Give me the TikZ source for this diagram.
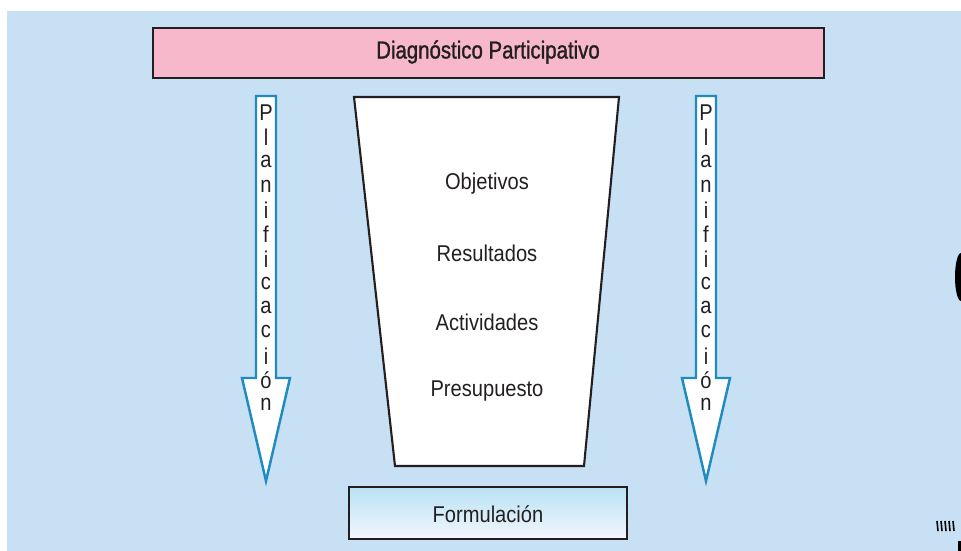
\documentclass[tikz,border=0pt]{standalone}
\usepackage{fontspec}
\setmainfont{Liberation Sans}
\newfontfamily\textofont[FakeStretch=0.88]{Liberation Sans}
\newfontfamily\titulofont[FakeStretch=0.83, FakeBold=1.2]{Liberation Sans}
\definecolor{fondo}{RGB}{200,224,243}
\definecolor{rosa}{RGB}{248,184,204}
\definecolor{azulflecha}{RGB}{30,140,190}
\definecolor{texto}{RGB}{35,31,32}
\definecolor{celeste}{RGB}{185,225,245}
\definecolor{blanco}{RGB}{242,247,252}
\tikzset{
  etiqueta/.style={text=texto, font=\textofont\fontsize{13}{15}\selectfont, inner sep=0pt},
  letra/.style={text=texto, font=\textofont\fontsize{13}{15}\selectfont, inner sep=0pt},
  flecha/.style={draw=azulflecha, line width=1.4pt, fill=white, line join=miter},
  caja/.style={draw=texto, line width=1.4pt},
}
\begin{document}
\begin{tikzpicture}[x=0.02cm, y=-0.02cm]
	\useasboundingbox (0,0) rectangle (961,551);
	\fill[fondo] (7,11) rectangle (961,551);
	% diagnostico
	\draw[caja, line width=1.7pt, fill=rosa] (153,28) rectangle (824,78);
	\node[etiqueta, font=\titulofont\fontsize{14}{16}\selectfont] (diag) at (488,52) {Diagnóstico Participativo};
	% embudo
	\draw[caja, line width=1.2pt, fill=white] (354,97) -- (619,97) -- (584,466) -- (395,466) -- cycle;
	\node[etiqueta] (obj) at (487,184) {Objetivos};
	\node[etiqueta] (res) at (487,253) {Resultados};
	\node[etiqueta] (act) at (487,322) {Actividades};
	\node[etiqueta] (pre) at (487,391) {Presupuesto};
	% formulacion
	\draw[caja, top color=celeste, bottom color=blanco] (349,487) rectangle (627,539);
	\node[etiqueta] (form) at (488,514) {Formulación};
	% flechas de planificacion
	\foreach \xc in {266,706} {
		\draw[flecha] (\xc-10,96) -- (\xc+10,96) -- (\xc+10,378) -- (\xc+24,378)
			-- (\xc,481) -- (\xc-24,378) -- (\xc-10,378) -- cycle;
		\foreach \ch [count=\i] in {P,l,a,n,i,f,i,c,a,c,i,ó,n}
			\node[letra] at (\xc,113+24.3*\i-24.3) {\ch};
	}
	% restos del borde
	\fill[black] (961,277) ellipse (6 and 24);
	\foreach \xt in {937,941,945,949,953}
		\draw[black, line width=0.9pt] (\xt,521) -- (\xt+1,531);
	\fill[black] (958,541) rectangle (961,551);
\end{tikzpicture}
\end{document}
